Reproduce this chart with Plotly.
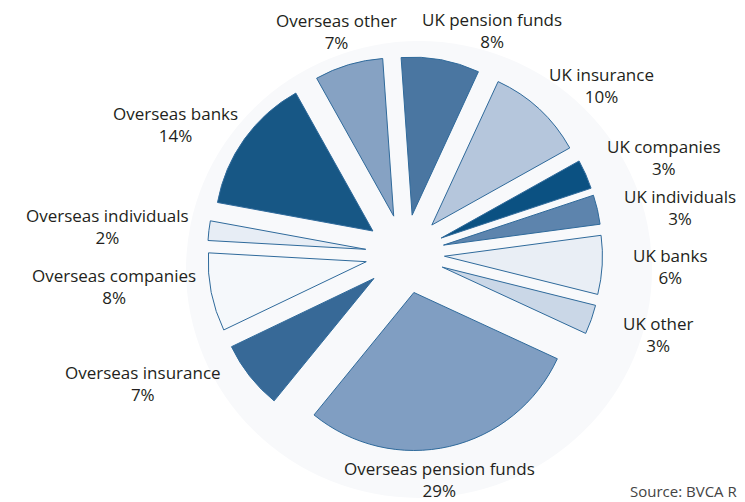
import plotly.graph_objects as go

# ---- data ----
labels = ["UK pension funds", "UK insurance", "UK companies", "UK individuals",
          "UK banks", "UK other", "Overseas pension funds", "Overseas insurance",
          "Overseas companies", "Overseas individuals", "Overseas banks", "Overseas other"]
values = [8, 10, 3, 3, 6, 3, 29, 7, 8, 2, 14, 7]
colors = ["#4a76a1", "#b5c6dc", "#0b5182", "#5d84ad", "#e9eef5", "#cad7e7",
          "#809ec2", "#376997", "#f5f8fb", "#e7edf5", "#175785", "#86a2c3"]

# label text centres in pixels (layout only)
label_px = [(484, 33), (593, 88), (656, 160), (672, 209), (662, 268), (650, 336),
            (431, 481), (135, 385), (106, 288), (99, 228), (167, 126), (328, 34)]
label_dy = -10

W, H = 745, 502
cx, cy, half = 397, 246, 197.5

fig = go.Figure()
fig.add_trace(go.Pie(
    labels=labels, values=values, sort=False, direction="clockwise",
    rotation=-4, pull=[0.25] * len(values),
    marker=dict(colors=colors, line=dict(color="#2f6a9b", width=1)),
    textinfo="none", hoverinfo="label+percent", showlegend=False,
    domain=dict(x=[(cx - half) / W, (cx + half) / W],
                y=[(H - cy - half) / H, (H - cy + half) / H]),
))

annotations = []
for lab, val, (px, py) in zip(labels, values, label_px):
    annotations.append(dict(
        x=px / W, y=1 - (py + label_dy) / H, xref="paper", yref="paper",
        text=f"{lab}<br>{val}%", showarrow=False, align="center",
        xanchor="center", yanchor="middle",
        font=dict(family="Open Sans", size=17, color="#231f20"),
    ))
annotations.append(dict(
    x=620 / W, y=1 - (493 + label_dy) / H, xref="paper", yref="paper",
    text="Source: BVCA Report on Investment Activity", showarrow=False,
    xanchor="left", yanchor="middle",
    font=dict(family="Open Sans", size=15, color="#444444"),
))

shapes = [dict(type="circle", xref="paper", yref="paper", layer="below",
               x0=(404 - 226) / W, x1=(404 + 240) / W,
               y0=(H - 255 - 235) / H, y1=(H - 255 + 222) / H,
               fillcolor="#f8f9fb", line=dict(width=0))]

fig.update_layout(
    width=W, height=H, margin=dict(l=0, r=0, t=0, b=0),
    paper_bgcolor="white", plot_bgcolor="white",
    annotations=annotations, shapes=shapes,
)
fig.write_html("out.html")
